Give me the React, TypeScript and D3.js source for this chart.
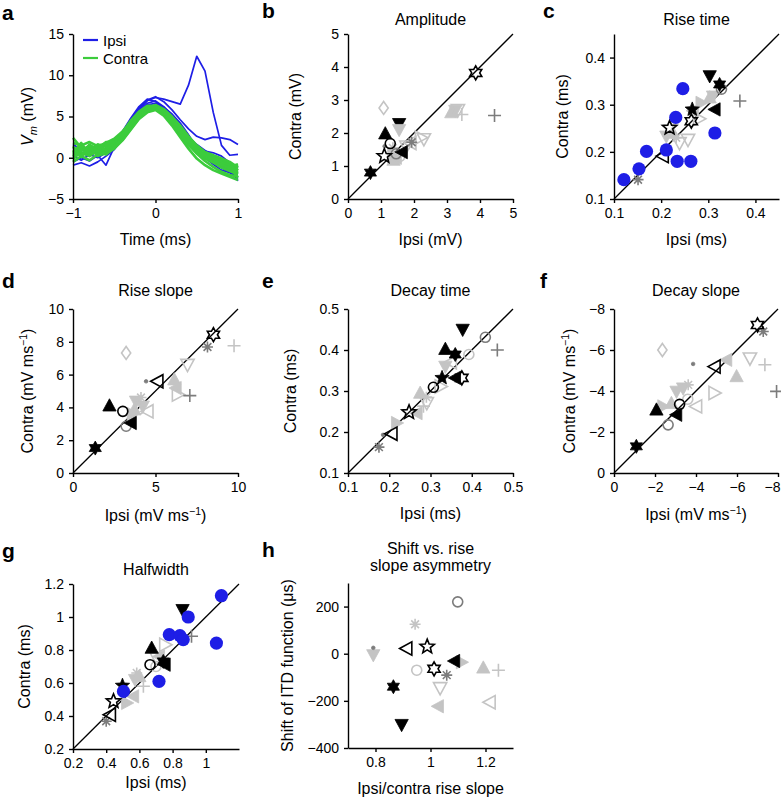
import React, { useRef, useEffect } from "react";
import * as d3 from "d3";

// ---- panel a: EPSP traces (ms, mV) ----
const T = [-1, -0.9, -0.8, -0.7, -0.6, -0.5, -0.4, -0.3, -0.2, -0.1, 0, 0.1, 0.2, 0.3, 0.4, 0.5, 0.6, 0.7, 0.8, 0.9, 1];

const ipsiTraces = [
  [0.3, 0.6, 0.2, 0.8, 1.0, 1.6, 2.8, 4.3, 5.8, 6.9, 7.3, 7.1, 6.8, 6.5, 8.8, 12.3, 10.5, 5.5, 1.5, 0.3, 0.4],
  [1.2, 0.9, 1.4, 1.0, 1.5, 2.2, 3.0, 4.6, 6.0, 7.0, 7.4, 6.8, 5.8, 4.6, 3.5, 2.6, 2.2, 2.5, 2.4, 2.2, 1.6],
  [-0.9, -0.6, -1.0, -0.5, 0.2, 1.0, 2.4, 3.8, 5.2, 6.0, 6.4, 5.9, 4.8, 3.4, 2.0, 1.0, 0.2, -0.6, -1.2, -1.8, -2.5],
  [0.2, -0.3, 0.4, 0.0, 0.6, 1.4, 2.8, 4.2, 5.6, 6.6, 6.9, 6.2, 5.2, 3.9, 2.6, 1.5, 0.8, 0.6, 0.2, -0.6, -1.2],
  [1.6, 1.0, 0.8, 1.2, 1.0, 1.8, 3.2, 4.8, 6.2, 7.1, 6.8, 6.0, 5.0, 3.6, 2.4, 1.6, 0.9, 0.2, -0.5, -1.4, -2.8],
  [-0.5, 0.0, -0.4, 0.3, -0.9, 1.3, 2.6, 4.0, 5.4, 6.4, 6.6, 6.1, 5.3, 4.2, 2.8, 1.2, 0.0, -0.8, -1.5, -1.8, -2.0],
];

const contraTraces = [
  [0.4, 1.1, 0.6, 1.3, 1.0, 1.6, 2.6, 3.8, 5.0, 5.8, 6.1, 5.6, 4.6, 3.2, 2.0, 0.9, 0.2, -0.3, -0.6, -0.9, -1.2],
  [1.8, 1.5, 1.9, 1.4, 1.8, 2.3, 3.2, 4.3, 5.3, 5.9, 5.9, 5.4, 4.5, 3.3, 2.1, 1.1, 0.4, -0.1, -0.4, -0.8, -1.0],
  [-0.5, 0.2, -0.3, 0.4, 0.5, 1.1, 2.1, 3.4, 4.7, 5.5, 5.8, 5.1, 3.9, 2.5, 1.1, -0.1, -0.9, -1.5, -1.9, -2.3, -2.7],
  [0.8, 0.4, 1.2, 0.7, 1.2, 1.8, 2.9, 4.2, 5.3, 6.0, 6.2, 5.8, 4.9, 3.7, 2.5, 1.4, 0.6, 0.1, -0.3, -0.6, -1.5],
  [2.4, 1.2, 1.0, 1.6, 1.4, 2.0, 3.0, 4.3, 5.5, 6.2, 6.1, 5.5, 4.4, 2.9, 1.7, 0.5, -0.4, -1.1, -1.7, -2.1, -2.3],
  [0.0, 0.6, 0.2, 0.9, 0.8, 1.4, 2.4, 3.7, 4.9, 5.7, 6.0, 5.6, 4.7, 3.5, 2.3, 1.2, 0.4, -0.1, -0.7, -1.1, -0.8],
  [1.2, 0.8, 1.5, 1.1, 1.6, 2.1, 3.1, 4.5, 5.6, 6.3, 6.3, 5.4, 4.2, 2.8, 1.5, 0.6, -0.1, -0.6, -1.1, -1.4, -1.9],
  [0.2, 1.4, 0.9, 0.5, 1.1, 1.7, 2.8, 4.0, 5.1, 5.9, 6.4, 5.9, 5.0, 3.9, 2.6, 1.5, 0.7, 0.3, -0.1, -0.5, -1.2],
  [1.0, 0.3, 0.7, 1.6, 0.9, 1.3, 2.2, 3.5, 4.8, 5.6, 5.9, 5.3, 4.3, 3.0, 1.8, 0.8, 0.0, -0.5, -1.2, -1.6, -2.0],
  [-0.2, 0.9, 1.3, 0.2, 0.6, 1.5, 2.7, 4.1, 5.2, 6.0, 6.1, 5.7, 4.8, 3.6, 2.4, 1.3, 0.5, 0.0, -0.5, -1.0, -1.6],
  [0.6, 1.8, 0.4, 1.0, 1.9, 1.9, 2.9, 4.0, 5.0, 5.7, 6.0, 5.5, 4.4, 3.1, 1.9, 0.9, 0.1, -0.4, -0.9, -1.3, -1.8],
  [1.4, 0.1, 1.6, 0.8, 0.4, 1.2, 2.5, 3.9, 5.2, 6.1, 6.2, 5.6, 4.6, 3.4, 2.2, 1.0, 0.3, -0.2, -0.8, -1.2, -2.4],
];

// ---- scatter panels: [ipsi, contra, marker] ----
type Pt = [number, number, string];

const amplitudeData: Pt[] = [
  [1.38, 1.18, "upL"], [1.46, 1.25, "ltL"], [1.36, 1.33, "rtL"], [1.57, 1.29, "cirL"], [1.36, 1.55, "astL"],
  [1.77, 1.6, "dnLO"], [1.9, 1.7, "ltLO"], [2.2, 1.86, "rtLO"], [2.3, 1.82, "dnLO"], [3.13, 2.62, "upL"],
  [3.25, 2.68, "dnL"], [3.33, 2.7, "dnLO"], [3.45, 2.56, "plusL"], [1.08, 2.76, "diaL"],
  [1.11, 1.6, "dotD"], [1.46, 1.37, "cirD"], [1.93, 1.72, "astD"], [4.44, 2.53, "plusD"],
  [0.68, 0.8, "hexK"], [1.13, 1.98, "upK"], [1.1, 1.3, "pentO"], [1.28, 1.68, "cirK"], [1.64, 1.42, "ltK"],
  [3.87, 3.82, "hexO"], [1.55, 2.28, "dnK"], [1.55, 2.1, "dnL"],
];

const riseTimeData: Pt[] = [
  [0.211, 0.233, "dnL"], [0.225, 0.24, "upL"], [0.268, 0.287, "ltL"], [0.285, 0.304, "rtL"], [0.303, 0.315, "upL"],
  [0.31, 0.318, "dnL"], [0.239, 0.219, "dnLO"], [0.257, 0.226, "dnLO"], [0.232, 0.23, "astL"], [0.28, 0.27, "rtLO"],
  [0.151, 0.141, "astD"], [0.328, 0.333, "cirD"], [0.367, 0.308, "plusD"],
  [0.204, 0.191, "ltKO"], [0.218, 0.251, "pentO"], [0.266, 0.29, "pentK"], [0.264, 0.265, "hexO"],
  [0.303, 0.361, "dnK"], [0.314, 0.29, "ltK"], [0.324, 0.343, "hexK"],
  [0.121, 0.141, "blue"], [0.153, 0.164, "blue"], [0.169, 0.201, "blue"], [0.211, 0.204, "blue"], [0.231, 0.273, "blue"],
  [0.246, 0.334, "blue"], [0.234, 0.18, "blue"], [0.263, 0.18, "blue"], [0.314, 0.24, "blue"],
];

const riseSlopeData: Pt[] = [
  [3.72, 3.86, "upL"], [3.82, 4.37, "dnL"], [4.23, 4.07, "dnL"], [4.12, 4.6, "astL"], [4.53, 3.76, "ltLO"],
  [6.14, 5.69, "upL"], [6.24, 5.18, "ltL"], [6.34, 4.78, "rtLO"], [6.94, 6.61, "dnLO"], [9.76, 7.76, "plusL"],
  [3.22, 7.32, "diaL"], [3.6, 3.6, "rtL"], [4.0, 3.9, "cirL"],
  [3.22, 2.85, "cirD"], [4.43, 5.59, "dotD"], [7.08, 4.72, "plusD"], [8.15, 7.68, "astD"],
  [1.35, 1.52, "hexK"], [2.21, 4.1, "upK"], [3.02, 3.76, "cirK"], [3.52, 3.05, "ltK"], [5.13, 5.59, "ltKO"],
  [8.51, 8.43, "hexO"],
];

const decayTimeData: Pt[] = [
  [0.218, 0.222, "rtL"], [0.267, 0.246, "ltL"], [0.275, 0.295, "upL"], [0.283, 0.263, "plusL"], [0.291, 0.271, "dnLO"],
  [0.324, 0.311, "rtLO"], [0.336, 0.36, "dnL"], [0.393, 0.389, "cirL"], [0.29, 0.285, "astL"], [0.35, 0.37, "ltLO"],
  [0.175, 0.163, "astD"], [0.185, 0.193, "dotD"], [0.433, 0.431, "cirD"], [0.462, 0.4, "plusD"],
  [0.206, 0.196, "ltKO"], [0.248, 0.248, "pentO"], [0.307, 0.309, "cirK"], [0.328, 0.332, "pentK"],
  [0.36, 0.332, "ltK"], [0.376, 0.332, "hexO"], [0.336, 0.402, "upK"], [0.36, 0.389, "hexK"], [0.378, 0.45, "dnK"],
];

const decaySlopeData: Pt[] = [
  [-2.39, -3.25, "rtL"], [-2.36, -6.0, "diaL"], [-3.05, -3.98, "dnL"], [-3.37, -4.14, "dnL"], [-3.62, -4.3, "astL"],
  [-4.02, -3.25, "ltLO"], [-4.89, -3.9, "rtLO"], [-5.49, -5.52, "ltL"], [-5.98, -4.71, "upL"], [-6.63, -5.6, "dnLO"],
  [-7.36, -5.28, "plusL"], [-2.8, -3.4, "upL"], [-3.6, -3.6, "cirL"],
  [-2.64, -2.35, "cirD"], [-3.86, -5.32, "dotD"], [-7.93, -3.98, "plusD"], [-7.28, -6.9, "astD"],
  [-1.09, -1.3, "hexK"], [-2.07, -3.08, "upK"], [-3.05, -2.84, "ltK"], [-3.2, -3.35, "cirK"],
  [-4.92, -5.19, "ltKO"], [-7.0, -7.22, "hexO"],
];

const halfwidthData: Pt[] = [
  [0.524, 0.479, "rtL"], [0.564, 0.519, "ltL"], [0.574, 0.62, "dnL"], [0.584, 0.661, "astL"], [0.624, 0.58, "plusL"],
  [0.704, 0.752, "dnLO"], [0.754, 0.832, "rtLO"], [0.6, 0.64, "upL"], [0.7, 0.7, "cirL"], [0.72, 0.76, "ltL"],
  [0.4, 0.368, "astD"], [0.914, 0.883, "plusD"],
  [0.424, 0.408, "ltKO"], [0.444, 0.489, "pentO"], [0.498, 0.584, "pentK"], [0.674, 0.812, "upK"],
  [0.664, 0.711, "cirK"], [0.744, 0.731, "hexK"], [0.754, 0.711, "ltK"], [0.86, 1.044, "dnK"],
  [0.504, 0.549, "blue"], [0.718, 0.61, "blue"], [0.78, 0.893, "blue"], [0.844, 0.887, "blue"],
  [0.864, 0.863, "blue"], [0.894, 1.0, "blue"], [1.064, 0.842, "blue"], [1.094, 1.129, "blue"],
];

const shiftData: Pt[] = [
  [0.792, -5, "dnL"], [0.944, 125, "astL"], [0.95, -70, "cirL"], [1.113, -36, "rtL"], [1.192, -60, "upL"],
  [1.247, -70, "plusL"], [1.035, -145, "dnLO"], [1.028, -223, "ltL"], [1.216, -206, "ltLO"],
  [0.792, 25, "dotD"], [1.059, -91, "astD"], [1.099, 220, "cirD"],
  [0.913, 22, "ltKO"], [0.988, 30, "pentO"], [1.013, -64, "hexO"], [1.087, -31, "ltK"],
  [0.865, -140, "hexK"], [0.895, -301, "dnK"],
];

const FONT = "Arial, 'Liberation Sans', Helvetica, sans-serif";
const K = "#000000";
const D = "#7c7c7c";
const L = "#c4c4c4";
const BLUE = "#1e1ee6";
const GREEN = "#3ccc3c";

// marker key -> [shape, colour, filled]
const MARKERS: Record<string, [string, string, boolean]> = {
  hexK: ["hex", K, true], hexO: ["hex", K, false],
  pentK: ["pent", K, true], pentO: ["pent", K, false],
  astD: ["ast", D, false], astL: ["ast", L, false],
  plusD: ["plus", D, false], plusL: ["plus", L, false],
  diaL: ["diamond", L, false],
  upK: ["up", K, true], upL: ["up", L, true],
  dnK: ["down", K, true], dnL: ["down", L, true], dnLO: ["down", L, false],
  ltK: ["left", K, true], ltKO: ["left", K, false], ltL: ["left", L, true], ltLO: ["left", L, false],
  rtL: ["right", L, true], rtLO: ["right", L, false],
  cirD: ["circle", D, false], cirK: ["circle", K, false], cirL: ["circle", L, false],
  dotD: ["dot", D, true],
  blue: ["blob", BLUE, true],
};

function markerPath(shape: string): string {
  const p = d3.path();
  const poly = (pts: [number, number][]) => {
    p.moveTo(pts[0][0], pts[0][1]);
    pts.slice(1).forEach((q) => p.lineTo(q[0], q[1]));
    p.closePath();
  };
  const tri = (deg: number) => {
    const s = 7;
    const base: [number, number][] = [[0, -s], [s * 0.95, s * 0.75], [-s * 0.95, s * 0.75]];
    const r = (deg * Math.PI) / 180;
    poly(base.map(([x, y]) => [x * Math.cos(r) - y * Math.sin(r), x * Math.sin(r) + y * Math.cos(r)] as [number, number]));
  };
  const star = (n: number, ro: number, ri: number) => {
    const pts: [number, number][] = [];
    for (let i = 0; i < n * 2; i++) {
      const a = -Math.PI / 2 + (i * Math.PI) / n;
      const r = i % 2 === 0 ? ro : ri;
      pts.push([r * Math.cos(a), r * Math.sin(a)]);
    }
    poly(pts);
  };
  switch (shape) {
    case "up": tri(0); break;
    case "down": tri(180); break;
    case "left": tri(-90); break;
    case "right": tri(90); break;
    case "hex": star(6, 7, 4); break;
    case "pent": star(5, 7.5, 3.3); break;
    case "diamond": poly([[0, -6.5], [4.6, 0], [0, 6.5], [-4.6, 0]]); break;
    case "circle": p.arc(0, 0, 5, 0, Math.PI * 2); break;
    case "dot": p.arc(0, 0, 1.8, 0, Math.PI * 2); break;
    case "blob": p.arc(0, 0, 6.6, 0, Math.PI * 2); break;
    case "plus":
      p.moveTo(-6.5, 0); p.lineTo(6.5, 0); p.moveTo(0, -6.5); p.lineTo(0, 6.5);
      break;
    case "ast":
      [0, 45, 90, 135].forEach((a) => {
        const r = (a * Math.PI) / 180;
        p.moveTo(-5.5 * Math.cos(r), -5.5 * Math.sin(r));
        p.lineTo(5.5 * Math.cos(r), 5.5 * Math.sin(r));
      });
      break;
  }
  return p.toString();
}

const fmt = (d: number) => (d < 0 ? "\u2212" + Math.abs(d) : String(d));

interface Panel {
  letter: string; lx: number; ly: number;
  title: string[]; titleY: number[];
  box: { x: number; y: number; w: number; h: number };
  xd: [number, number]; yd: [number, number];
  xt: number[]; yt: number[];
  xl: string; xly: number; yl: string; ylx: number; sup?: boolean; nudgeLast?: number;
  data: Pt[]; diag: boolean;
}

const panels: Panel[] = [
  { letter: "b", lx: 262, ly: 18, title: ["Amplitude"], titleY: [25], box: { x: 348, y: 34, w: 165, h: 165 },
    xd: [0, 5], yd: [0, 5], xt: [0, 1, 2, 3, 4, 5], yt: [0, 1, 2, 3, 4, 5],
    xl: "Ipsi (mV)", xly: 245, yl: "Contra (mV)", ylx: 301, data: amplitudeData, diag: true },
  { letter: "c", lx: 543, ly: 18, title: ["Rise time"], titleY: [25], box: { x: 614, y: 34, w: 165, h: 165 },
    xd: [0.1, 0.45], yd: [0.1, 0.45], xt: [0.1, 0.2, 0.3, 0.4], yt: [0.1, 0.2, 0.3, 0.4],
    xl: "Ipsi (ms)", xly: 245, yl: "Contra (ms)", ylx: 568, data: riseTimeData, diag: true },
  { letter: "d", lx: 2, ly: 288, title: ["Rise slope"], titleY: [296], box: { x: 73, y: 309, w: 165, h: 164 },
    xd: [0, 10], yd: [0, 10], xt: [0, 5, 10], yt: [0, 2, 4, 6, 8, 10],
    xl: "Ipsi (mV ms", xly: 521, yl: "Contra (mV ms", ylx: 33, sup: true, data: riseSlopeData, diag: true },
  { letter: "e", lx: 262, ly: 288, title: ["Decay time"], titleY: [296], box: { x: 348, y: 309, w: 165, h: 164 },
    xd: [0.1, 0.5], yd: [0.1, 0.5], xt: [0.1, 0.2, 0.3, 0.4, 0.5], yt: [0.1, 0.2, 0.3, 0.4, 0.5],
    xl: "Ipsi (ms)", xly: 519, yl: "Contra (ms)", ylx: 296, data: decayTimeData, diag: true },
  { letter: "f", lx: 540, ly: 288, title: ["Decay slope"], titleY: [296], box: { x: 614, y: 309, w: 164, h: 164 },
    xd: [0, -8], yd: [0, -8], xt: [0, -2, -4, -6, -8], yt: [0, -2, -4, -6, -8],
    xl: "Ipsi (mV ms", xly: 520, yl: "Contra (mV ms", ylx: 575, sup: true, nudgeLast: -6, data: decaySlopeData, diag: true },
  { letter: "g", lx: 2, ly: 558, title: ["Halfwidth"], titleY: [575], box: { x: 73, y: 584, w: 166, h: 165 },
    xd: [0.2, 1.2], yd: [0.2, 1.2], xt: [0.2, 0.4, 0.6, 0.8, 1], yt: [0.2, 0.4, 0.6, 0.8, 1, 1.2],
    xl: "Ipsi (ms)", xly: 788, yl: "Contra (ms)", ylx: 30, data: halfwidthData, diag: true },
  { letter: "h", lx: 262, ly: 557, title: ["Shift vs. rise", "slope asymmetry"], titleY: [554, 571],
    box: { x: 348, y: 583, w: 165, h: 165 },
    xd: [0.7, 1.3], yd: [-400, 300], xt: [0.8, 1, 1.2], yt: [-400, -200, 0, 200],
    xl: "Ipsi/contra rise slope", xly: 794, yl: "Shift of ITD function (\u03bcs)", ylx: 293, data: shiftData, diag: false },
];

function styleAxis(g: any) {
  g.select(".domain").attr("stroke", "#000").attr("stroke-width", 1.4);
  g.selectAll(".tick line").attr("stroke", "#000").attr("stroke-width", 1.4);
  g.selectAll(".tick text").attr("font-size", 14).attr("font-family", FONT).attr("fill", "#000");
}

function addLabel(svg: any, text: string, x: number, y: number, sup: boolean | undefined, rotate: boolean) {
  const t = svg.append("text")
    .attr("font-family", FONT).attr("font-size", 16).attr("text-anchor", "middle")
    .attr("transform", rotate ? `translate(${x},${y}) rotate(-90)` : `translate(${x},${y})`);
  t.append("tspan").text(text);
  if (sup) {
    t.append("tspan").attr("font-size", 10.5).attr("dy", -6).text("\u22121");
    t.append("tspan").attr("dy", 6).text(")");
  }
}

function drawScatter(svg: any, p: Panel) {
  const { box } = p;
  const x = d3.scaleLinear().domain(p.xd).range([box.x, box.x + box.w]);
  const y = d3.scaleLinear().domain(p.yd).range([box.y + box.h, box.y]);

  svg.append("text").attr("x", p.lx).attr("y", p.ly).attr("font-family", FONT)
    .attr("font-size", 21).attr("font-weight", "bold").text(p.letter);
  p.title.forEach((line, i) => {
    svg.append("text").attr("x", box.x + box.w / 2).attr("y", p.titleY[i]).attr("text-anchor", "middle")
      .attr("font-family", FONT).attr("font-size", 16).text(line);
  });

  if (p.diag) {
    svg.append("line")
      .attr("x1", x(p.xd[0])).attr("y1", y(p.yd[0]))
      .attr("x2", x(p.xd[1])).attr("y2", y(p.yd[1]))
      .attr("stroke", "#000").attr("stroke-width", 1.3);
  }

  const gx = svg.append("g").attr("transform", `translate(0,${box.y + box.h})`)
    .call(d3.axisBottom(x).tickValues(p.xt).tickFormat(fmt as any).tickSize(4).tickSizeOuter(0).tickPadding(5));
  styleAxis(gx);
  if (p.nudgeLast) {
    gx.selectAll(".tick text").filter((_: any, i: number) => i === p.xt.length - 1).attr("dx", p.nudgeLast);
  }
  const gy = svg.append("g").attr("transform", `translate(${box.x},0)`)
    .call(d3.axisLeft(y).tickValues(p.yt).tickFormat(fmt as any).tickSize(4).tickSizeOuter(0).tickPadding(5));
  styleAxis(gy);

  svg.append("g").selectAll("path").data(p.data).enter().append("path")
    .attr("transform", (d: Pt) => `translate(${x(d[0])},${y(d[1])})`)
    .attr("d", (d: Pt) => markerPath(MARKERS[d[2]][0]))
    .attr("fill", (d: Pt) => {
      const [shape, col, filled] = MARKERS[d[2]];
      return filled && shape !== "plus" && shape !== "ast" ? col : "none";
    })
    .attr("stroke", (d: Pt) => (MARKERS[d[2]][0] === "blob" ? "none" : MARKERS[d[2]][1]))
    .attr("stroke-width", (d: Pt) => (MARKERS[d[2]][2] ? 0.8 : 1.6))
    .attr("stroke-linejoin", "miter");

  addLabel(svg, p.xl, box.x + box.w / 2, p.xly, p.sup, false);
  addLabel(svg, p.yl, p.ylx, box.y + box.h / 2, p.sup, true);
}

function drawTraces(svg: any) {
  const box = { x: 73, y: 34, w: 165, h: 165 };
  const x = d3.scaleLinear().domain([-1, 1]).range([box.x, box.x + box.w]);
  const y = d3.scaleLinear().domain([-5, 15]).range([box.y + box.h, box.y]);
  const line = d3.line<number>().x((_, i) => x(T[i])).y((d) => y(d));

  svg.append("text").attr("x", 2).attr("y", 20).attr("font-family", FONT)
    .attr("font-size", 21).attr("font-weight", "bold").text("a");

  const g = svg.append("g");
  ipsiTraces.forEach((tr) => {
    g.append("path").attr("d", line(tr)).attr("fill", "none").attr("stroke", BLUE)
      .attr("stroke-width", 1.7).attr("stroke-linejoin", "round");
  });
  contraTraces.forEach((tr) => {
    g.append("path").attr("d", line(tr)).attr("fill", "none").attr("stroke", GREEN)
      .attr("stroke-width", 2.6).attr("stroke-linejoin", "round");
  });

  const gx = svg.append("g").attr("transform", `translate(0,${box.y + box.h})`)
    .call(d3.axisBottom(x).tickValues([-1, 0, 1]).tickFormat(fmt as any).tickSize(4).tickSizeOuter(0).tickPadding(5));
  styleAxis(gx);
  const gy = svg.append("g").attr("transform", `translate(${box.x},0)`)
    .call(d3.axisLeft(y).tickValues([-5, 0, 5, 10, 15]).tickFormat(fmt as any).tickSize(4).tickSizeOuter(0).tickPadding(5));
  styleAxis(gy);

  // legend
  [["Ipsi", BLUE, 40], ["Contra", GREEN, 58]].forEach(([name, col, ly]) => {
    svg.append("line").attr("x1", 83).attr("x2", 98).attr("y1", ly).attr("y2", ly)
      .attr("stroke", col).attr("stroke-width", 2.2);
    svg.append("text").attr("x", 103).attr("y", (ly as number) + 5.5).attr("font-family", FONT)
      .attr("font-size", 15).text(name);
  });

  addLabel(svg, "Time (ms)", box.x + box.w / 2, 245, false, false);
  const yl = svg.append("text").attr("font-family", FONT).attr("font-size", 16).attr("text-anchor", "middle")
    .attr("transform", `translate(33,${box.y + box.h / 2}) rotate(-90)`);
  yl.append("tspan").attr("font-style", "italic").text("V");
  yl.append("tspan").attr("font-style", "italic").attr("font-size", 11).attr("dy", 4).text("m");
  yl.append("tspan").attr("dy", -4).text(" (mV)");
}

export default function App() {
  const ref = useRef<SVGSVGElement>(null);

  useEffect(() => {
    const svg = d3.select(ref.current);
    svg.selectAll("*").remove();
    svg.append("rect").attr("width", 781).attr("height", 800).attr("fill", "#fff");
    drawTraces(svg);
    panels.forEach((p) => drawScatter(svg, p));
  }, []);

  return (
    <svg
      ref={ref}
      width={781}
      height={800}
      style={{ display: "block", position: "absolute", left: 0, top: 0 }}
    />
  );
}
